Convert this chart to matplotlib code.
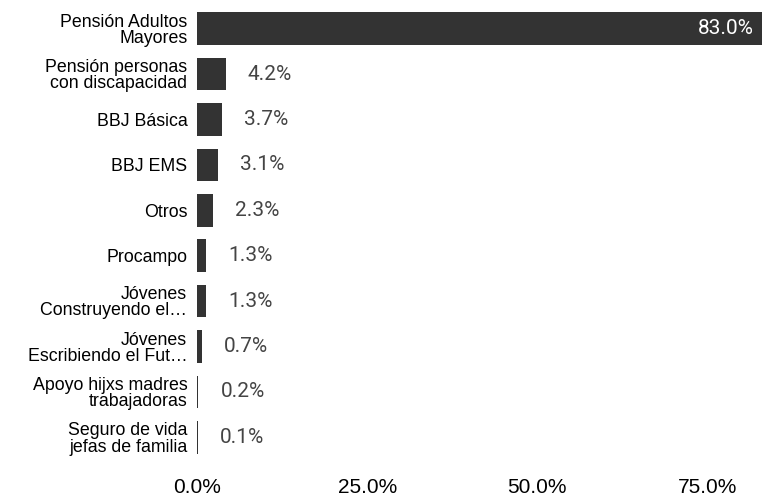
import numpy as np
import matplotlib
matplotlib.use("Agg")
from matplotlib import pyplot as plt

### programas y porcentaje de beneficiarios
programas = ['Pensión Adultos\nMayores', 'Pensión personas\ncon discapacidad', 'BBJ Básica',
             'BBJ EMS', 'Otros', 'Procampo', 'Jóvenes\nConstruyendo el…',
             'Jóvenes\nEscribiendo el Fut…', 'Apoyo hijxs madres\ntrabajadoras',
             'Seguro de vida\njefas de familia']
porcentajes = [83.0, 4.2, 3.7, 3.1, 2.3, 1.3, 1.3, 0.7, 0.2, 0.1]
xticks = [0, 25, 50, 75]
xtick_labels = ['0.0%', '25.0%', '50.0%', '75.0%']

fig = plt.figure(figsize=(7.62, 5), dpi=100)
ax = fig.add_axes([0.2585, 0.08, 0.7415, 0.908])

y = np.arange(len(programas))
ax.barh(y, porcentajes, height=0.72, color='#333333')
ax.set_ylim(len(programas) - 0.5, -0.5)
ax.set_xlim(0, 83)

### etiquetas de valor
for i, v in enumerate(porcentajes):
    if v > 50:
        ax.annotate(f'{v:.1f}%', (v, i), xytext=(-6, 0), textcoords='offset points',
                    ha='right', va='center', color='white', fontsize=15, family='Roboto')
    else:
        ax.annotate(f'{v:.1f}%', (v, i), xytext=(16, 0), textcoords='offset points',
                    ha='left', va='center', color='#444444', fontsize=15, family='Roboto')

ax.set_yticks(y)
ax.set_yticklabels(programas, fontsize=12.8, family='Liberation Sans', linespacing=0.95)
ax.set_xticks(xticks)
ax.set_xticklabels(xtick_labels, fontsize=15, family='Liberation Sans')
ax.tick_params(axis='y', length=0, pad=7)
ax.tick_params(axis='x', length=0, pad=13)
for s in ax.spines.values():
    s.set_visible(False)

fig.savefig('out.png', dpi=100)
